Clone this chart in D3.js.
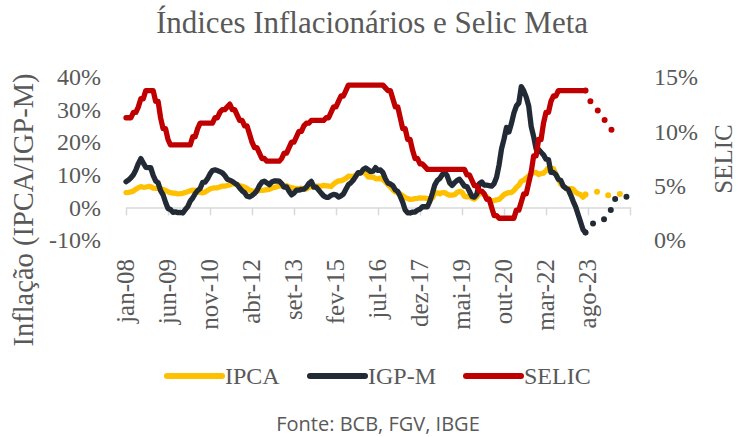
<!DOCTYPE html>
<html lang="pt">
<head>
  <meta charset="UTF-8">
  <title>Índices Inflacionários e Selic Meta</title>
  <style>
    body { margin: 0; background: #fff; }
    text { font-family: "Liberation Serif", "Times New Roman", serif; fill: #595959; }
  </style>
</head>
<body>

  <svg id="svg" width="744" height="437"></svg>

  <script src="https://d3js.org/d3.v7.min.js"></script>
  <script>

    // month labels shown on the axis (every 17 months from jan-08)
    const xTickLabels = ['jan-08', 'jun-09', 'nov-10', 'abr-12', 'set-13', 'fev-15',
                         'jul-16', 'dez-17', 'mai-19', 'out-20', 'mar-22', 'ago-23']

    // IPCA 12m (%), jan-08 .. jul-23
    const ipca = [
      4.56, 4.61, 4.73, 5.04, 5.58, 6.06, 6.37, 6.17, 6.25, 6.41, 6.39, 5.90,
      5.84, 5.90, 5.61, 5.53, 5.20, 4.80, 4.50, 4.36, 4.34, 4.17, 4.22, 4.31,
      4.59, 4.83, 5.17, 5.26, 5.22, 4.84, 4.60, 4.49, 4.70, 5.20, 5.63, 5.91,
      5.99, 6.01, 6.30, 6.51, 6.55, 6.71, 6.87, 7.23, 7.31, 6.97, 6.64, 6.50,
      6.22, 5.85, 5.24, 5.10, 4.99, 4.92, 5.20, 5.24, 5.28, 5.45, 5.53, 5.84,
      6.15, 6.31, 6.59, 6.49, 6.50, 6.70, 6.27, 6.09, 5.86, 5.84, 5.77, 5.91,
      5.59, 5.68, 6.15, 6.28, 6.37, 6.52, 6.50, 6.51, 6.75, 6.59, 6.56, 6.41,
      7.14, 7.70, 8.13, 8.17, 8.47, 8.89, 9.56, 9.53, 9.49, 9.93, 10.48, 10.67,
      10.71, 10.36, 9.39, 9.28, 9.32, 8.84, 8.74, 8.97, 8.48, 7.87, 6.99, 6.29,
      5.35, 4.76, 4.57, 4.08, 3.60, 3.00, 2.71, 2.46, 2.54, 2.70, 2.80, 2.95,
      2.86, 2.84, 2.68, 2.76, 2.86, 4.39, 4.48, 4.19, 4.53, 4.56, 4.05, 3.75,
      3.78, 3.89, 4.58, 4.94, 4.66, 3.37, 3.22, 3.43, 2.89, 2.54, 3.27, 4.31,
      4.19, 4.01, 3.30, 2.40, 1.88, 2.13, 2.31, 2.44, 3.14, 3.92, 4.31, 4.52,
      4.56, 5.20, 6.10, 6.76, 8.06, 8.35, 8.99, 9.68, 10.25, 10.67, 10.74, 10.06,
      10.38, 10.54, 11.30, 12.13, 11.73, 11.89, 10.07, 8.73, 7.17, 6.47, 5.90, 5.79,
      5.77, 5.60, 4.65, 4.18, 3.94, 3.16, 3.99
    ]

    // IGP-M 12m (%), jan-08 .. jul-23
    const igpm = [
      7.90, 8.38, 9.10, 10.00, 11.53, 13.44, 14.97, 13.63, 12.31, 12.23, 12.21, 9.81,
      8.14, 7.53, 5.16, 3.87, 1.59, -0.33, -0.66, -1.50, -1.35, -1.60, -1.55, -1.72,
      -0.65, 0.25, 1.94, 2.89, 4.19, 5.18, 5.79, 7.66, 7.77, 8.81, 10.27, 11.32,
      11.50, 11.30, 10.95, 10.60, 9.77, 8.64, 8.35, 8.00, 7.46, 6.95, 5.95, 5.10,
      4.53, 3.43, 3.23, 3.65, 4.26, 5.14, 6.67, 7.72, 8.07, 7.52, 6.96, 7.82,
      8.10, 8.14, 8.06, 7.30, 6.22, 6.31, 4.96, 3.85, 4.40, 5.27, 5.31, 5.51,
      5.59, 6.21, 7.31, 7.98, 6.23, 6.24, 5.31, 4.37, 3.54, 3.10, 3.11, 3.69,
      3.98, 3.86, 3.16, 3.55, 4.11, 5.58, 6.97, 7.55, 8.35, 9.52, 10.69, 10.54,
      11.60, 12.08, 11.56, 10.97, 11.09, 12.20, 11.35, 11.49, 10.66, 8.78, 7.49, 7.17,
      6.65, 5.38, 4.86, 3.37, 1.57, -0.78, -1.66, -1.71, -1.45, -1.41, -0.86, -0.52,
      0.20, 0.21, 0.20, 1.89, 4.26, 6.92, 8.24, 8.89, 10.04, 10.79, 9.68, 7.54,
      6.74, 7.60, 8.27, 8.64, 7.64, 6.51, 6.38, 4.95, 3.37, 3.15, 4.07, 7.30,
      7.81, 6.82, 6.81, 6.68, 6.51, 7.31, 9.27, 13.02, 17.94, 20.93, 24.52, 23.14,
      25.71, 28.94, 31.10, 32.02, 37.04, 35.75, 33.83, 31.12, 24.86, 21.73, 17.89, 17.78,
      16.91, 16.12, 14.77, 14.66, 10.72, 10.70, 10.08, 8.59, 8.25, 6.52, 5.90, 5.45,
      3.79, 1.86, 0.17, -2.17, -4.47, -6.86, -7.72
    ]

    // Selic meta (% a.a.), jan-08 .. jul-23
    const selic = [
      11.25, 11.25, 11.25, 11.75, 11.75, 12.25, 13.00, 13.00, 13.75, 13.75, 13.75, 13.75,
      12.75, 12.75, 11.25, 10.25, 10.25, 9.25, 8.75, 8.75, 8.75, 8.75, 8.75, 8.75,
      8.75, 8.75, 8.75, 9.50, 9.50, 10.25, 10.75, 10.75, 10.75, 10.75, 10.75, 10.75,
      11.25, 11.25, 11.75, 12.00, 12.00, 12.25, 12.50, 12.00, 12.00, 11.50, 11.00, 11.00,
      10.50, 10.50, 9.75, 9.00, 8.50, 8.50, 8.00, 7.50, 7.50, 7.25, 7.25, 7.25,
      7.25, 7.25, 7.25, 7.50, 8.00, 8.00, 8.50, 9.00, 9.00, 9.50, 10.00, 10.00,
      10.50, 10.75, 10.75, 11.00, 11.00, 11.00, 11.00, 11.00, 11.00, 11.25, 11.25, 11.75,
      12.25, 12.25, 12.75, 13.25, 13.25, 13.75, 14.25, 14.25, 14.25, 14.25, 14.25, 14.25,
      14.25, 14.25, 14.25, 14.25, 14.25, 14.25, 14.25, 14.25, 14.25, 14.00, 13.75, 13.75,
      13.00, 12.25, 12.25, 11.25, 10.25, 10.25, 9.25, 9.25, 8.25, 7.50, 7.50, 7.00,
      7.00, 6.75, 6.50, 6.50, 6.50, 6.50, 6.50, 6.50, 6.50, 6.50, 6.50, 6.50,
      6.50, 6.50, 6.50, 6.50, 6.50, 6.50, 6.00, 6.00, 5.50, 5.00, 5.00, 4.50,
      4.50, 4.25, 3.75, 3.75, 3.00, 2.25, 2.25, 2.00, 2.00, 2.00, 2.00, 2.00,
      2.00, 2.00, 2.75, 2.75, 3.50, 4.25, 4.25, 5.25, 6.25, 7.75, 7.75, 9.25,
      9.25, 10.75, 11.75, 11.75, 12.75, 13.25, 13.25, 13.75, 13.75, 13.75, 13.75, 13.75,
      13.75, 13.75, 13.75, 13.75, 13.75, 13.75, 13.75
    ]

    // projections (dotted), jul-23 onward
    const ipcaProj = [3.99, 4.2, 4.4, 4.6, 4.75, 4.8, 4.5, 4.2, 3.9, 3.7, 3.7, 3.8, 3.9, 4.0, 4.1, 4.2]
    const igpmProj = [-7.72, -6.7, -5.7, -4.95, -4.6, -4.3, -4.0, -3.8, -3.5, -2.6, -1.2, 0.6, 2.6, 3.0, 3.1, 3.2, 3.3, 3.3]
    const selicProj = [13.75, 13.25, 12.75, 12.5, 12.25, 11.9, 11.6, 11.25, 10.95, 10.6, 10.3, 10.0, 9.8, 9.6, 9.5]

    const projStart = ipca.length - 1
    const nMonths = 204

    const svg = d3.select('#svg')

    const x = d3.scaleLinear().domain([0, nMonths]).range([126, 630])
    const yLeft = d3.scaleLinear().domain([-10, 40]).range([240, 77])
    const yRight = d3.scaleLinear().domain([0, 15]).range([240, 77])

    // title
    svg.append('text')
      .attr('x', 372).attr('y', 33)
      .attr('text-anchor', 'middle')
      .style('font-size', '31px')
      .text('Índices Inflacionários e Selic Meta')

    // x axis line at 0%
    const tickVals = d3.range(0, nMonths + 1, 17)
    const xAxis = svg.append('g')
      .attr('transform', `translate(0,${yLeft(0)})`)
      .call(d3.axisBottom(x).tickValues(tickVals).tickSize(8).tickSizeOuter(0).tickFormat(''))
    xAxis.selectAll('path, line').attr('stroke', '#d9d9d9').attr('stroke-width', 1.5)

    // rotated month labels
    svg.append('g').selectAll('text')
      .data(xTickLabels)
      .enter()
      .append('text')
      .attr('transform', (d, i) => `translate(${x(i * 17)},259) rotate(-90)`)
      .attr('text-anchor', 'end')
      .attr('dy', '0.33em')
      .style('font-size', '25px')
      .text(d => d)

    // left axis
    const leftAxis = svg.append('g')
      .attr('transform', 'translate(101,0)')
      .call(d3.axisLeft(yLeft).tickValues([-10, 0, 10, 20, 30, 40]).tickSize(0).tickPadding(0).tickFormat(d => d + '%'))
    leftAxis.select('.domain').remove()
    leftAxis.selectAll('text').style('font-size', '24px').attr('fill', '#595959').style('font-family', '"Liberation Serif", serif')

    // right axis
    const rightAxis = svg.append('g')
      .attr('transform', 'translate(654,0)')
      .call(d3.axisRight(yRight).tickValues([0, 5, 10, 15]).tickSize(0).tickPadding(0).tickFormat(d => d + '%'))
    rightAxis.select('.domain').remove()
    rightAxis.selectAll('text').style('font-size', '24px').attr('fill', '#595959').style('font-family', '"Liberation Serif", serif')

    // axis titles
    svg.append('text')
      .attr('transform', 'translate(33,210) rotate(-90)')
      .attr('text-anchor', 'middle')
      .style('font-size', '28.5px')
      .text('Inflação (IPCA/IGP-M)')

    svg.append('text')
      .attr('transform', 'translate(732,159) rotate(-90)')
      .attr('text-anchor', 'middle')
      .style('font-size', '25px')
      .text('SELIC')

    const lineL = d3.line().x(d => x(d.i)).y(d => yLeft(d.v))
    const lineR = d3.line().x(d => x(d.i)).y(d => yRight(d.v))
    const pts = (arr, start) => arr.map((v, k) => ({ i: start + k, v: v }))

    const series = [
      { data: ipca, proj: ipcaProj, color: '#ffc000', line: lineL },
      { data: igpm, proj: igpmProj, color: '#222a35', line: lineL },
      { data: selic, proj: selicProj, color: '#c00000', line: lineR }
    ]

    series.forEach(s => {
      svg.append('path')
        .attr('d', s.line(pts(s.data, 0)))
        .attr('fill', 'none')
        .attr('stroke', s.color)
        .attr('stroke-width', 5.3)
        .attr('stroke-linejoin', 'round')
        .attr('stroke-linecap', 'round')
      svg.append('path')
        .attr('d', s.line(pts(s.proj, projStart)))
        .attr('fill', 'none')
        .attr('stroke', s.color)
        .attr('stroke-width', 6)
        .attr('stroke-linecap', 'round')
        .attr('stroke-dasharray', '0 11.8')
    })

    // legend
    const legend = [
      { name: 'IPCA', color: '#ffc000', x: 167 },
      { name: 'IGP-M', color: '#222a35', x: 310 },
      { name: 'SELIC', color: '#c00000', x: 466 }
    ]
    const lg = svg.append('g').selectAll('g').data(legend).enter().append('g')
    lg.append('line')
      .attr('x1', d => d.x).attr('x2', d => d.x + 55)
      .attr('y1', 376).attr('y2', 376)
      .attr('stroke', d => d.color)
      .attr('stroke-width', 6)
      .attr('stroke-linecap', 'round')
    lg.append('text')
      .attr('x', d => d.x + 58).attr('y', 384)
      .style('font-size', '24px')
      .text(d => d.name)

    // source
    svg.append('text')
      .attr('x', 378).attr('y', 431)
      .attr('text-anchor', 'middle')
      .style('font-family', '"Open Sans", sans-serif')
      .style('font-size', '20px')
      .attr('fill', '#767171')
      .text('Fonte: BCB, FGV, IBGE')

  </script>
</body>
</html>
